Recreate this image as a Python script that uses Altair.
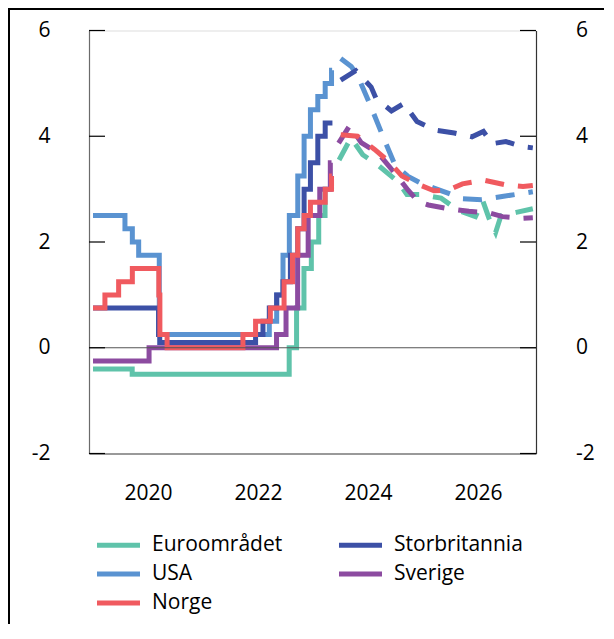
import altair as alt
import pandas as pd

# ---------------- data ----------------
# legend fills column-major: column 1 = Euroområdet, USA, Norge; column 2 = Storbritannia, Sverige
series_names = ["Euroområdet", "USA", "Norge", "Storbritannia", "Sverige"]
series_colors = ["#5FC3AA", "#5A93D1", "#F05A5F", "#3C50A6", "#8C4BA0"]
draw_order = ["Euroområdet", "USA", "Storbritannia", "Sverige", "Norge"]

# historical policy rates (step changes)
euro_hist_dates = ["2019-01-01", "2019-09-18", "2022-07-27", "2022-09-14", "2022-11-02",
                   "2022-12-21", "2023-02-08", "2023-03-22", "2023-04-05"]
euro_hist_vals = [-0.4, -0.5, 0.0, 0.75, 1.5, 2.0, 2.5, 3.0, 3.0]

usa_hist_dates = ["2019-01-01", "2019-08-01", "2019-09-19", "2019-10-31", "2020-03-16",
                  "2022-03-17", "2022-05-05", "2022-06-16", "2022-07-28", "2022-09-22",
                  "2022-11-03", "2022-12-15", "2023-02-02", "2023-03-23", "2023-05-04",
                  "2023-05-08"]
usa_hist_vals = [2.5, 2.25, 2.0, 1.75, 0.25, 0.5, 1.0, 1.75, 2.5, 3.25, 4.0, 4.5, 4.75,
                 5.0, 5.25, 5.25]

uk_hist_dates = ["2019-01-01", "2020-03-11", "2020-03-19", "2021-12-16", "2022-02-03",
                 "2022-03-17", "2022-05-05", "2022-06-16", "2022-08-04", "2022-09-22",
                 "2022-11-03", "2022-12-15", "2023-02-02", "2023-03-23", "2023-05-10"]
uk_hist_vals = [0.75, 0.25, 0.1, 0.25, 0.5, 0.75, 1.0, 1.25, 1.75, 2.25, 3.0, 3.5, 4.0,
                4.25, 4.25]

se_hist_dates = ["2019-01-01", "2020-01-08", "2022-05-04", "2022-07-06", "2022-09-21",
                 "2022-11-30", "2023-02-15", "2023-04-26", "2023-05-04"]
se_hist_vals = [-0.25, 0.0, 0.25, 0.75, 1.75, 2.5, 3.0, 3.5, 3.5]

no_hist_dates = ["2019-01-01", "2019-03-21", "2019-06-20", "2019-09-19", "2020-03-13",
                 "2020-03-20", "2020-05-07", "2021-09-23", "2021-12-16", "2022-03-24",
                 "2022-06-23", "2022-08-18", "2022-09-22", "2022-11-03", "2022-12-15",
                 "2023-03-23", "2023-05-04", "2023-05-06"]
no_hist_vals = [0.75, 1.0, 1.25, 1.5, 1.0, 0.25, 0.0, 0.25, 0.5, 0.75, 1.25, 1.75, 2.25,
                2.5, 2.75, 3.0, 3.25, 3.25]

# market-implied forward paths (dashed)
euro_fc_dates = ["2023-06-23", "2023-09-10", "2023-11-27", "2024-03-05", "2024-07-18",
                 "2024-09-16", "2024-12-14", "2025-05-01", "2025-08-22", "2025-12-15",
                 "2026-02-02", "2026-03-15", "2026-04-28", "2026-06-03", "2026-09-12",
                 "2026-12-31"]
euro_fc_vals = [3.55, 3.97, 3.65, 3.46, 3.14, 2.90, 2.90, 2.83, 2.60, 2.48, 2.78, 2.45,
                2.18, 2.50, 2.56, 2.63]

usa_fc_dates = ["2023-07-04", "2023-09-12", "2023-10-23", "2024-01-22", "2024-04-22",
                "2024-06-28", "2024-09-24", "2024-12-14", "2025-03-15", "2025-06-20",
                "2025-09-12", "2026-01-26", "2026-06-10", "2026-12-31"]
usa_fc_vals = [5.47, 5.32, 5.15, 4.55, 3.91, 3.46, 3.24, 3.12, 3.02, 2.92, 2.82, 2.80,
               2.86, 2.95]

uk_fc_dates = ["2023-07-04", "2023-10-12", "2024-01-22", "2024-02-24", "2024-06-05",
               "2024-08-27", "2024-11-22", "2025-03-15", "2025-07-28", "2025-11-22",
               "2026-02-06", "2026-04-05", "2026-07-05", "2026-10-27", "2026-12-31"]
uk_fc_vals = [5.06, 5.24, 4.93, 4.71, 4.48, 4.62, 4.28, 4.12, 4.06, 3.99, 4.09, 3.86,
              3.90, 3.80, 3.78]

se_fc_dates = ["2023-06-20", "2023-09-01", "2023-11-17", "2024-03-05", "2024-06-28",
               "2024-09-24", "2024-12-02", "2025-02-06", "2025-06-20", "2025-11-02",
               "2026-03-18", "2026-06-13", "2026-10-27", "2026-12-31"]
se_fc_vals = [3.87, 4.20, 3.88, 3.69, 3.30, 2.98, 2.76, 2.70, 2.63, 2.58, 2.55, 2.48,
              2.45, 2.46]

no_fc_dates = ["2023-07-04", "2023-10-23", "2024-02-14", "2024-05-15", "2024-08-14",
               "2024-11-22", "2025-03-15", "2025-06-15", "2025-09-20", "2026-02-06",
               "2026-07-05", "2026-10-27", "2026-12-31"]
no_fc_vals = [4.03, 4.00, 3.75, 3.53, 3.25, 3.10, 2.97, 2.98, 3.10, 3.17, 3.08, 3.05,
              3.07]

y_tick_values = [-2, 0, 2, 4, 6]
x_tick_years = [2020, 2022, 2024, 2026]
x_domain = [2018.927, 2027.055]

# ---------------- assemble ----------------
hist = {
    "Euroområdet": (euro_hist_dates, euro_hist_vals),
    "USA": (usa_hist_dates, usa_hist_vals),
    "Storbritannia": (uk_hist_dates, uk_hist_vals),
    "Sverige": (se_hist_dates, se_hist_vals),
    "Norge": (no_hist_dates, no_hist_vals),
}
fc = {
    "Euroområdet": (euro_fc_dates, euro_fc_vals),
    "USA": (usa_fc_dates, usa_fc_vals),
    "Storbritannia": (uk_fc_dates, uk_fc_vals),
    "Sverige": (se_fc_dates, se_fc_vals),
    "Norge": (no_fc_dates, no_fc_vals),
}


def to_frame(dates, vals, name):
    d = pd.to_datetime(pd.Series(dates))
    yrs = d.dt.year + (d.dt.dayofyear - 1) / (365 + d.dt.is_leap_year.astype(int))
    return pd.DataFrame({"t": yrs, "value": vals, "series": name})


FONT = "Open Sans"
FS = 21

xscale = alt.Scale(domain=x_domain, nice=False, zero=False)
yscale = alt.Scale(domain=[-2, 6], nice=False, zero=False)
cscale = alt.Scale(domain=series_names, range=series_colors)

x_axis = alt.Axis(
    orient="bottom", values=x_tick_years, format="d", ticks=False, grid=False, title=None,
    labelPadding=29, labelFontSize=FS, labelFont=FONT, labelColor="black",
    domainColor="#444444", domainWidth=1.2,
)
y_axis_left = alt.Axis(
    orient="left", values=y_tick_values, ticks=False, grid=False, title=None,
    labelPadding=39, labelFontSize=FS, labelFont=FONT, labelColor="black",
    labelAlign="right", labelExpr="'' + datum.value",
    domainColor="#6b6b6b", domainWidth=1.2,
)
y_axis_right = alt.Axis(
    orient="right", values=y_tick_values, ticks=False, grid=False, title=None,
    labelPadding=39.5, labelFontSize=FS, labelFont=FONT, labelColor="black",
    labelAlign="left", labelExpr="'' + datum.value",
    domainColor="#333333", domainWidth=1.2,
)
legend = alt.Legend(
    orient="none", legendX=19, legendY=504, columns=2, title=None,
    symbolType="M-4,0L4,0", symbolSize=115.6, symbolStrokeWidth=5,
    labelFontSize=FS, labelFont=FONT, labelColor="black", labelOffset=23,
    columnPadding=45, rowPadding=7, padding=0,
)

layers = []
first = True
for name in draw_order:
    d, v = hist[name]
    layers.append(
        alt.Chart(to_frame(d, v, name)).mark_line(
            interpolate="step-after", strokeWidth=5, strokeCap="butt", strokeJoin="miter"
        ).encode(
            x=alt.X("t:Q", scale=xscale, axis=x_axis, title=None),
            y=alt.Y("value:Q", scale=yscale, axis=y_axis_left if first else None, title=None),
            color=alt.Color("series:N", scale=cscale, legend=legend if first else None),
        )
    )
    first = False
for name in draw_order:
    d, v = fc[name]
    layers.append(
        alt.Chart(to_frame(d, v, name)).mark_line(
            strokeWidth=5, strokeDash=[19, 14], strokeCap="butt"
        ).encode(
            x=alt.X("t:Q", scale=xscale, axis=x_axis, title=None),
            y=alt.Y("value:Q", scale=yscale, axis=None, title=None),
            color=alt.Color("series:N", scale=cscale, legend=None),
        )
    )

tick_df = pd.DataFrame({"v": y_tick_values})
zero_df = pd.DataFrame({"v": [0]})

zero_line = alt.Chart(zero_df).mark_rule(color="#555555", strokeWidth=1.2).encode(
    y=alt.Y("v:Q", scale=yscale, axis=None)
)
ticks_left = alt.Chart(tick_df).mark_rule(color="black", strokeWidth=1.2).encode(
    y=alt.Y("v:Q", scale=yscale, axis=y_axis_right, title=None),
    x=alt.value(0), x2=alt.value(16),
)
ticks_right = alt.Chart(tick_df).mark_rule(color="black", strokeWidth=1.2).encode(
    y=alt.Y("v:Q", scale=yscale, axis=None),
    x=alt.value(431), x2=alt.value(447),
)
frame_top = alt.Chart(zero_df).mark_rule(color="black", strokeWidth=2).encode(
    x=alt.value(-81), x2=alt.value(600), y=alt.value(-21.5)
)
frame_left = alt.Chart(zero_df).mark_rule(color="black", strokeWidth=2).encode(
    x=alt.value(-80), y=alt.value(-22), y2=alt.value(700)
)

chart = alt.layer(
    *layers, zero_line, ticks_left, ticks_right, frame_top, frame_left
).resolve_axis(y="independent").properties(
    width=447, height=423,
    autosize=alt.AutoSizeParams(type="none"),
    padding={"left": 81, "top": 22.5, "right": 68, "bottom": 170},
).configure_view(stroke=None).configure(font=FONT)

chart.save("out.html", embed_options={"renderer": "svg", "actions": False})
